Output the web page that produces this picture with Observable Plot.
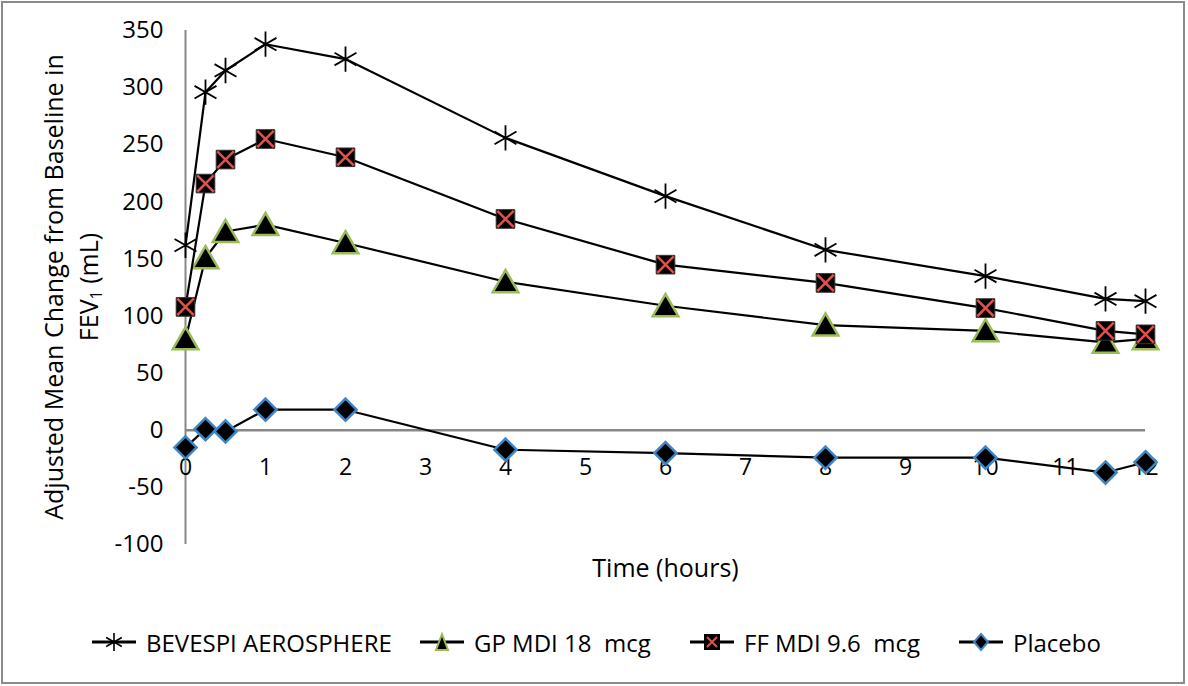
<!DOCTYPE html>
<html>
<head>
<meta charset="utf-8">
<script src="https://cdn.jsdelivr.net/npm/d3@7"></script>
<script src="https://cdn.jsdelivr.net/npm/@observablehq/plot@0.6"></script>
<style>
  html, body { margin: 0; padding: 0; background: #fff; }
  #wrap { position: relative; width: 1188px; height: 686px; overflow: hidden; font-family: "Open Sans", sans-serif; }
  #frame { position: absolute; left: 1px; top: 1px; width: 1180px; height: 679px; border: 2px solid #8a8a8a; pointer-events: none; }
  #chart { position: absolute; left: 0; top: 0; }
  #ylab { position: absolute; left: 71px; top: 287px; transform: translate(-50%, -50%) rotate(-90deg); white-space: nowrap; text-align: center; font-size: 25px; line-height: 35px; color: #000; }
  #ylab sub { font-size: 16px; vertical-align: -4px; line-height: 0; }
  .leg { position: absolute; top: 628px; display: flex; align-items: center; height: 28px; font-size: 24px; color: #000; white-space: nowrap; }
  .leg svg { margin-right: 10px; }
</style>
</head>
<body>
<div id="wrap">
  <div id="chart"></div>
  <div id="ylab">Adjusted Mean Change from Baseline in<br>FEV<sub>1</sub> (mL)</div>
  <div id="legend"></div>
  <div id="frame"></div>
</div>
<script>
const times = [0, 0.25, 0.5, 1, 2, 4, 6, 8, 10, 11.5, 12];
const bevespi = [162, 296, 315, 338, 325, 256, 205, 158, 135, 115, 113];
const gpMdi = [80, 151, 174, 180, 164, 130, 109, 92, 87, 77, 80];
const ffMdi = [108, 216, 237, 255, 239, 185, 145, 129, 107, 87, 84];
const placebo = [-15, 1, -1, 18, 18, -17, -20, -24, -24, -37, -28];
const xTicks = [0, 1, 2, 3, 4, 5, 6, 7, 8, 9, 10, 11, 12];
const yTicks = [-100, -50, 0, 50, 100, 150, 200, 250, 300, 350];
const seriesNames = ["BEVESPI AEROSPHERE", "GP MDI 18  mcg", "FF MDI 9.6  mcg", "Placebo"];

const toRows = (vals) => times.map((t, i) => ({t, v: vals[i]}));
const bRows = toRows(bevespi), gRows = toRows(gpMdi), fRows = toRows(ffMdi), pRows = toRows(placebo);

const GREEN = "#9BBB59", RED = "#E0504D", BLUE = "#3F86C4", AXIS = "#878787";

const chart = Plot.plot({
  width: 1188,
  height: 600,
  marginLeft: 185,
  marginRight: 43,
  marginTop: 30,
  marginBottom: 56,
  style: {fontFamily: "'Open Sans', sans-serif", fontSize: "24px", color: "#000", background: "transparent"},
  x: {domain: [0, 12], axis: null},
  y: {domain: [-100, 350], axis: null},
  marks: [
    Plot.axisY(yTicks, {tickSize: 0, tickPadding: 22, label: null, fontSize: 24, tickFormat: d => String(d)}),
    Plot.ruleX([0], {stroke: AXIS, strokeWidth: 2}),
    Plot.ruleY([0], {stroke: AXIS, strokeWidth: 2.5}),
    Plot.text(xTicks, {x: d => d, y: 0, text: d => String(d), dy: 37, fontSize: 23, fill: "#000"}),
    Plot.text(["Time (hours)"], {frameAnchor: "bottom", dy: 32, fontSize: 25, fill: "#000"}),
    // BEVESPI
    Plot.line(bRows, {x: "t", y: "v", stroke: "#000", strokeWidth: 2.2}),
    Plot.dot(bRows, {x: "t", y: "v", symbol: "asterisk", r: 12, stroke: "#000", strokeWidth: 1.8}),
    // GP
    Plot.line(gRows, {x: "t", y: "v", stroke: "#000", strokeWidth: 2.2}),
    Plot.dot(gRows, {x: "t", y: "v", symbol: "triangle", r: 9.5, dy: 3, fill: "#000", stroke: GREEN, strokeWidth: 2.5}),
    // FF
    Plot.line(fRows, {x: "t", y: "v", stroke: "#000", strokeWidth: 2.2}),
    Plot.dot(fRows, {x: "t", y: "v", symbol: "square", r: 10.5, fill: "#000", stroke: "#333", strokeWidth: 1}),
    Plot.dot(fRows, {x: "t", y: "v", symbol: "times", r: 7.5, stroke: RED, strokeWidth: 2.5}),
    // Placebo
    Plot.line(pRows, {x: "t", y: "v", stroke: "#000", strokeWidth: 2.2}),
    Plot.dot(pRows, {x: "t", y: "v", symbol: "diamond2", r: 10, fill: "#000", stroke: BLUE, strokeWidth: 2.5})
  ]
});
document.getElementById("chart").appendChild(chart);

// Legend
const legendDefs = [
  {name: seriesNames[0], left: 92, marker: '<path d="M22 5 V23 M14.2 9.5 L29.8 18.5 M14.2 18.5 L29.8 9.5" stroke="#000" stroke-width="1.6" fill="none"/>'},
  {name: seriesNames[1], left: 420, marker: `<path d="M22 6 L28 22 L16 22 Z" fill="#000" stroke="${GREEN}" stroke-width="2"/>`},
  {name: seriesNames[2], left: 690, marker: `<rect x="14" y="6" width="16" height="16" fill="#000"/><path d="M17 9 L27 19 M17 19 L27 9" stroke="${RED}" stroke-width="2"/>`},
  {name: seriesNames[3], left: 959, marker: `<path d="M22 6 L29 14 L22 22 L15 14 Z" fill="#000" stroke="${BLUE}" stroke-width="2"/>`}
];
const legend = document.getElementById("legend");
legendDefs.forEach(d => {
  const div = document.createElement("div");
  div.className = "leg";
  div.style.left = d.left + "px";
  div.innerHTML = `<svg width="44" height="28"><line x1="0" y1="14" x2="44" y2="14" stroke="#000" stroke-width="3"/>${d.marker}</svg><span>${d.name.replace(/  /g, "&nbsp; ")}</span>`;
  legend.appendChild(div);
});
</script>
</body>
</html>
